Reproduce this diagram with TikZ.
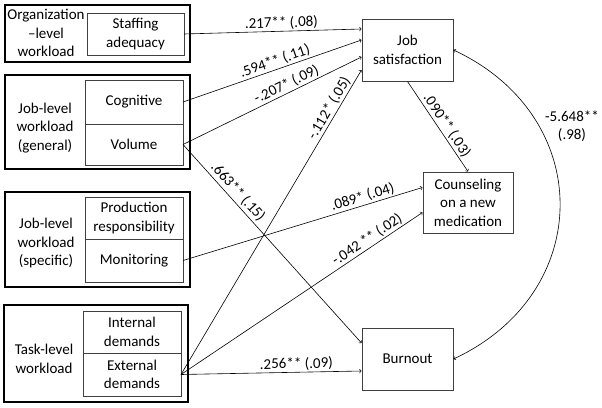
\documentclass[tikz,border=0pt]{standalone}
\usepackage{fontspec}
\setmainfont{Carlito}
\usetikzlibrary{positioning}

\begin{document}
\begin{tikzpicture}[x=1pt,y=-1pt,->,>=to,auto,
        font=\fontsize{15}{18.5}\selectfont,
        group box/.style={rectangle,draw,line width=1.8pt,inner sep=0pt,outer sep=0pt},
        item box/.style={rectangle,draw=black!75,line width=0.8pt,minimum width=98pt,inner sep=0pt,outer sep=0pt,align=center},
        main node/.style={rectangle,draw=black!75,line width=1pt,minimum width=91pt,minimum height=62pt,inner sep=0pt,align=center},
        coef/.style={sloped,above,inner sep=1.5pt}]
    \useasboundingbox (0,0) rectangle (602,407);

    % workload groups
    \node[group box,minimum width=185pt,minimum height=57pt] (org) at (97.5,33.5) {};
    \node[group box,minimum width=185pt,minimum height=94pt] (jgen) at (97.5,122) {};
    \node[group box,minimum width=185pt,minimum height=95pt] (jspec) at (97.5,239.5) {};
    \node[group box,minimum width=184pt,minimum height=97pt] (task) at (96,353.5) {};

    \node[align=center] (orglab) at (46,33) {Organization\\–level\\workload};
    \node[align=center] (jgenlab) at (45,128) {Job-level\\workload\\(general)};
    \node[align=center] (jspeclab) at (46,243) {Job-level\\workload\\(specific)};
    \node[align=center] (tasklab) at (44,359) {Task-level\\workload};

    \node[item box,minimum width=97pt,minimum height=42pt] (staff) at (135.5,34) {Staffing\\adequacy};
    \node[item box,minimum height=44pt] (cog) at (134,102) {Cognitive};
    \node[item box,minimum height=41pt] (vol) [below=0pt of cog] {Volume};
    \node[item box,minimum height=42pt] (prod) at (134,218) {Production\\responsibility};
    \node[item box,minimum height=43pt] (mon) [below=0pt of prod] {Monitoring};
    \node[item box,minimum height=42pt] (intd) at (132,332) {Internal\\demands};
    \node[item box,minimum height=43pt] (extd) [below=0pt of intd] {External\\demands};

    % outcomes
    \node[main node] (js) at (407.5,50) {Job\\satisfaction};
    \node[main node,minimum width=90pt,minimum height=61pt] (cou) at (468,202.5) {Counseling\\on a new\\medication};
    \node[main node] (bo) at (407.5,359) {Burnout};
    \node[align=center] (covlab) at (572,126) {-5.648**\\(.98)};

    \path[line width=0.6pt]
    (staff.east) edge node[coef,pos=.55] {.217** (.08)} ([yshift=21pt]js.west)
    (cog.east) edge node[coef,pos=.53] {.594** (.11)} ([yshift=10pt]js.west)
    (vol.east) edge node[coef,pos=.27,inner sep=2.5pt] {.663** (.15)} ([yshift=16pt]bo.west)
    (vol.east) edge node[coef,pos=.6] {-.207* (.09)} ([yshift=-7pt]js.west)
    (mon.east) edge node[coef,pos=.76] {.089* (.04)} ([yshift=15pt]cou.west)
    (extd.east) edge node[coef,pos=.86] {-.112* (.05)} ([yshift=-20pt]js.west)
    (extd.east) edge node[coef,pos=.79] {-.042 ** (.02)} ([yshift=-10pt]cou.west)
    (extd.east) edge node[coef,pos=.64] {.256** (.09)} ([yshift=-12pt]bo.west)
    (js.south) edge node[coef,pos=.54] {.090** (.03)} (cou.north)
    (bo.east) edge[<->,out=25,in=-25,looseness=1.3] (js.east);

\end{tikzpicture}
\end{document}
